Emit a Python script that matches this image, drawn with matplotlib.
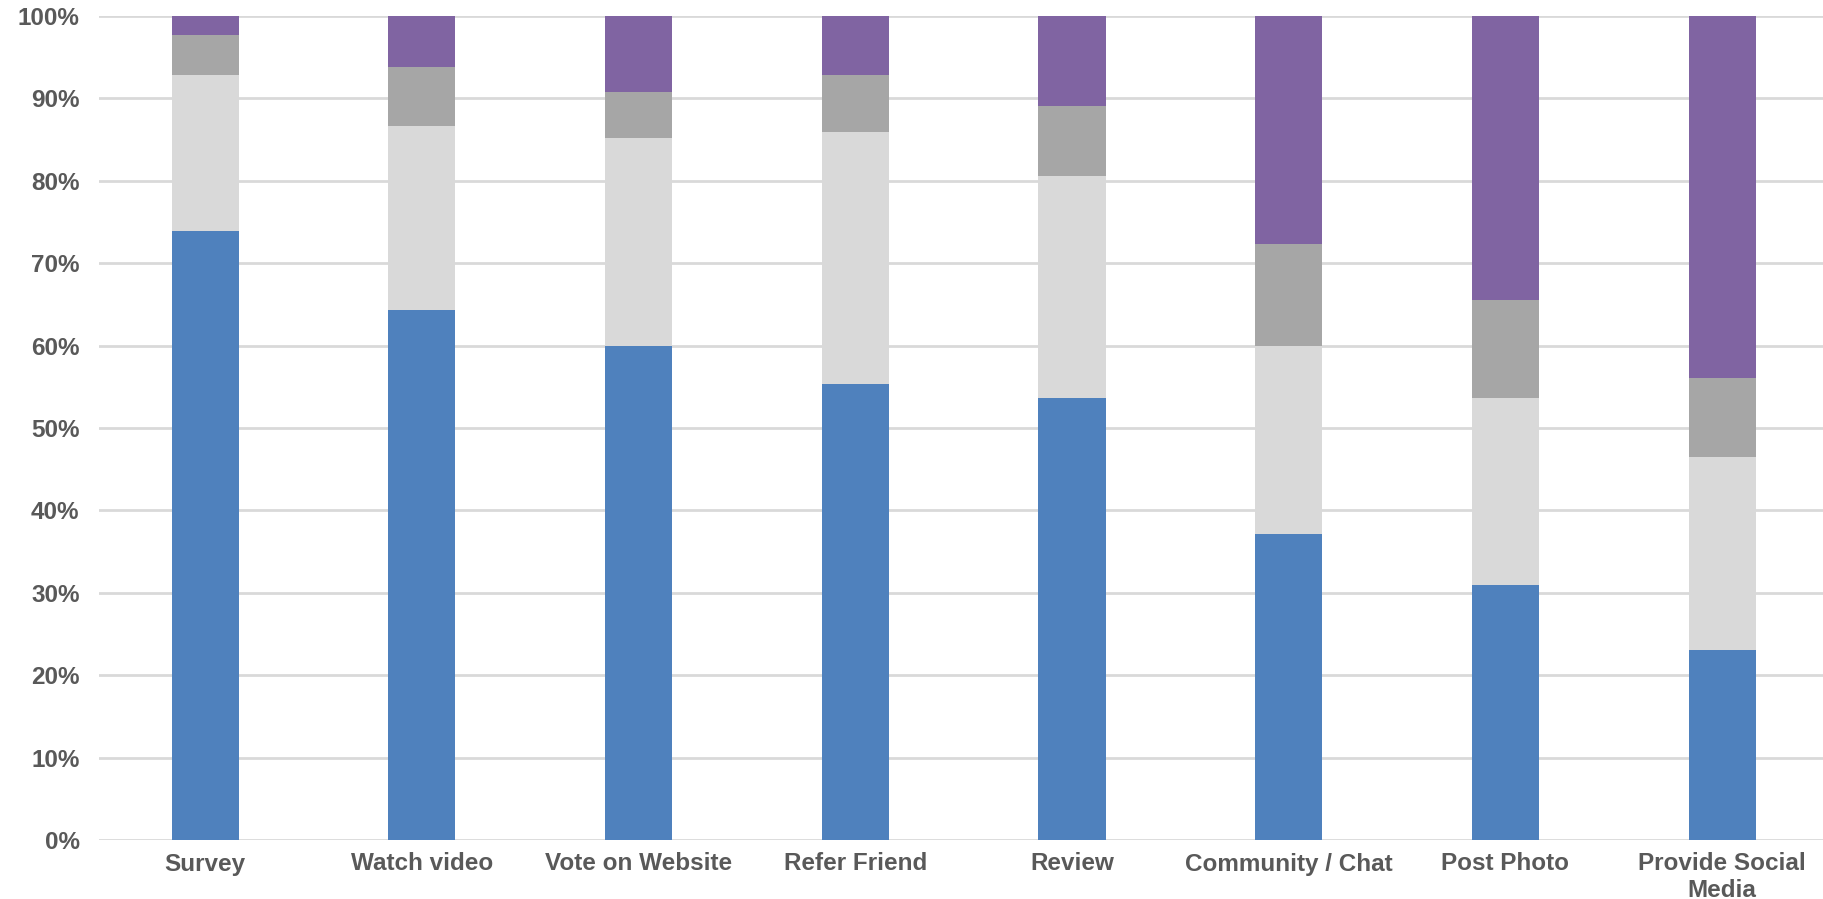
import matplotlib
matplotlib.use("Agg")
import matplotlib.pyplot as plt
import numpy as np
from matplotlib.ticker import PercentFormatter

categories = ["Survey", "Watch video", "Vote on Website", "Refer Friend",
              "Review", "Community / Chat", "Post Photo", "Provide Social\nMedia"]

# stacked shares (%), bottom to top
seg_blue   = [73.9, 64.3, 60.0, 55.4, 53.7, 37.1, 30.9, 23.0]
seg_light  = [18.9, 22.3, 25.2, 30.5, 26.9, 22.9, 22.8, 23.5]
seg_dark   = [4.9, 7.2, 5.6, 6.9, 8.5, 12.3, 11.8, 9.6]
seg_purple = [2.3, 6.2, 9.2, 7.2, 10.9, 27.7, 34.5, 43.9]

series = [seg_blue, seg_light, seg_dark, seg_purple]
colors = ["#4F81BD", "#D9D9D9", "#A6A6A6", "#8064A2"]

plt.rcParams["font.family"] = ["Liberation Sans", "DejaVu Sans"]

fig = plt.figure(figsize=(18.24, 8.99), dpi=100)
ax = fig.add_axes([99 / 1824, 59 / 899, 1 - 99 / 1824, 824 / 899])

x = np.arange(len(categories))
bottom = np.zeros(len(categories))
for vals, c in zip(series, colors):
    ax.bar(x, vals, width=0.31, bottom=bottom, color=c, zorder=3)
    bottom += np.array(vals)

ax.set_ylim(0, 100)
ax.set_xlim(-0.49, 7.47)
ax.set_yticks(np.arange(0, 101, 10))
ax.yaxis.set_major_formatter(PercentFormatter(decimals=0))
ax.set_xticks(x)
ax.set_xticklabels(categories, linespacing=1.2)

ax.grid(axis="y", color="#D9D9D9", linewidth=2, zorder=0)
ax.set_axisbelow(True)
for s in ["top", "right", "left", "bottom"]:
    ax.spines[s].set_visible(False)

ax.tick_params(axis="both", length=0, labelcolor="#595959", labelsize=17.5)
ax.tick_params(axis="y", pad=14)
ax.tick_params(axis="x", pad=9)
for lab in ax.get_xticklabels() + ax.get_yticklabels():
    lab.set_fontweight("bold")

fig.savefig("out.png", dpi=100)
